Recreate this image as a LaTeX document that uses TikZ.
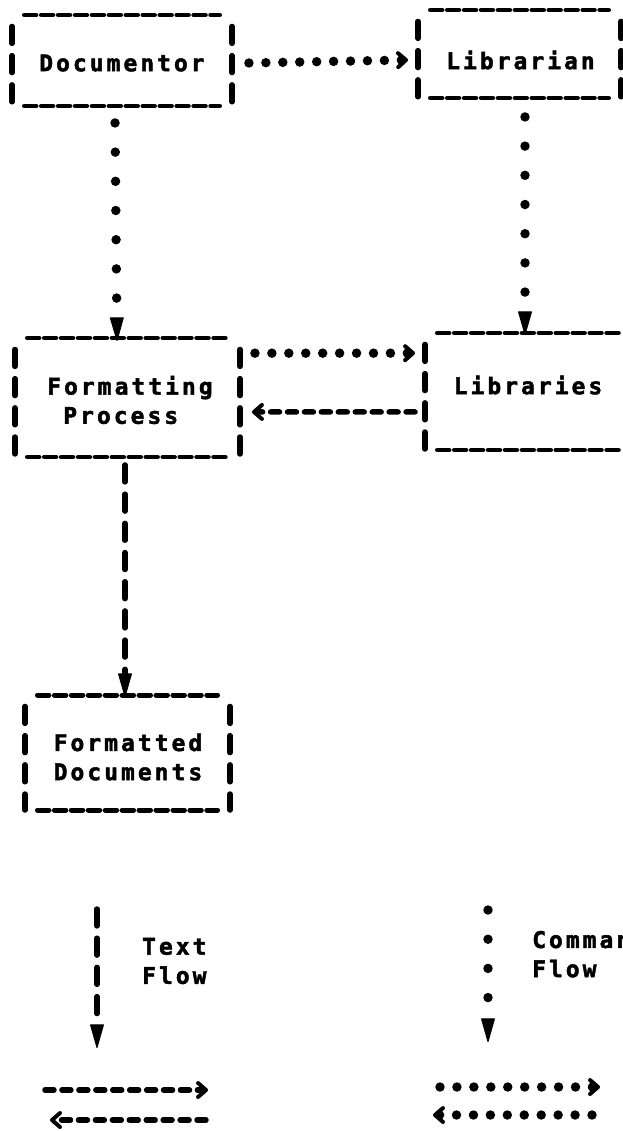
\documentclass[tikz,border=0pt]{standalone}
\usepackage{fontspec}
\newfontfamily\pf[LetterSpace=13.3, FakeBold=2]{DejaVu Sans Mono}
\usetikzlibrary{arrows.meta}
\begin{document}
\begin{tikzpicture}[x=1bp, y=-1bp,
  pfont/.style={font=\fontsize{23}{29.3}\selectfont\pf\bfseries},
  hline/.style={draw, line width=5pt, line cap=round, dash pattern=on 11.5pt off 5.5pt},
  vbar/.style={draw, line width=5.5pt, line cap=round, dash pattern=on 17pt off 12.3pt},
  abox/.style={rectangle, inner sep=0pt, outer sep=0pt,
    append after command={
      ([xshift=12.5pt]\tikzlastnode.north west) edge[hline] ([xshift=-12.5pt]\tikzlastnode.north east)
      ([xshift=12.5pt]\tikzlastnode.south west) edge[hline] ([xshift=-12.5pt]\tikzlastnode.south east)
      ([yshift=-11.5pt]\tikzlastnode.north west) edge[vbar] (\tikzlastnode.south west)
      ([yshift=-11.5pt]\tikzlastnode.north east) edge[vbar] (\tikzlastnode.south east)
    }},
  lbl/.style={pfont, inner sep=0pt, align=left},
  cmd/.style={draw, line width=9.5pt, line cap=round, dash pattern=on 0pt off 17pt},
  cmdv/.style={draw, line width=9.5pt, line cap=round, dash pattern=on 0pt off 29.3pt},
  txt/.style={draw, line width=5.5pt, line cap=round, dash pattern=on 9pt off 8pt},
  txtv/.style={draw, line width=5.5pt, line cap=round, dash pattern=on 17pt off 12.3pt},
  chev/.tip={Straight Barb[length=8pt, width=14pt, line width=4pt, round]},
  vtip/.tip={Triangle[length=25pt, width=14pt, line width=1pt, round]},
]
\fill[white] (0,0) rectangle (623,1131);
\useasboundingbox (0,0) rectangle (623,1131);
\clip (0,0) rectangle (623,1131);

% boxes
\node[abox, minimum width=220bp, minimum height=91bp,
  label={[lbl, yshift=-2.5bp]center:Documentor}] (doc) at (122,60.5) {};
\node[abox, minimum width=203bp, minimum height=88bp,
  label={[lbl, xshift=1bp, yshift=-6bp]center:Librarian}] (lib) at (519.5,54) {};
\node[abox, minimum width=225bp, minimum height=119bp,
  label={[lbl, xshift=2.5bp, yshift=-2.5bp]center:{Formatting\\\hspace*{16bp}Process}}] (fmt) at (127.5,397.5) {};
\node[abox, minimum width=211bp, minimum height=117bp,
  label={[lbl, xshift=-2.5bp, yshift=6.5bp]center:Libraries}] (libs) at (530.5,391.5) {};
\node[abox, minimum width=205bp, minimum height=115bp,
  label={[lbl, xshift=0.5bp, yshift=-4.5bp]center:{Formatted\\Documents}}] (fdoc) at (127.5,752.5) {};

% connectors
\draw[cmd, -chev] ([xshift=17pt, yshift=-2.5pt]doc.east) -- ([xshift=-10pt, yshift=-6pt]lib.west);
\draw[cmdv, -vtip] ([xshift=-7pt, yshift=-17pt]doc.south) -- ([xshift=-10.5pt, yshift=-3pt]fmt.north);
\draw[cmdv, -vtip] ([xshift=5.5pt, yshift=-19pt]lib.south) -- ([xshift=-5.5pt, yshift=-2pt]libs.north);
\draw[cmd, -chev] ([xshift=15pt, yshift=44.5pt]fmt.east) -- ([xshift=-10pt, yshift=38.5pt]libs.west);
\draw[txt, -chev] ([xshift=-10pt, yshift=-20.5pt]libs.west) -- ([xshift=12pt, yshift=-14.5pt]fmt.east);
\draw[txtv, -vtip] ([xshift=-2.5pt, yshift=-8pt]fmt.south) -- ([xshift=-2.5pt, yshift=-2pt]fdoc.north);

% legend
\coordinate (tfa) at (97,909);
\coordinate (tfb) at (97,1048);
\draw[txtv, -vtip] (tfa) -- (tfb);
\node[lbl, anchor=west] (tflabel) at (142,961) {Text\\Flow};

\coordinate (cfa) at (488,910);
\coordinate (cfb) at (488,1042);
\draw[cmdv, -vtip] (cfa) -- (cfb);
\node[lbl, anchor=west] (cflabel) at (532,954) {Command\\Flow};

\coordinate (ta1) at (45,1090);
\coordinate (ta2) at (208,1090);
\draw[txt, -chev] (ta1) -- (ta2);
\coordinate (tb1) at (206,1120);
\coordinate (tb2) at (50,1120);
\draw[txt, -chev] (tb1) -- (tb2);

\coordinate (ca1) at (440,1087);
\coordinate (ca2) at (600,1087);
\draw[cmd, -chev] (ca1) -- (ca2);
\coordinate (cb1) at (592,1115);
\coordinate (cb2) at (433,1115);
\draw[cmd, -chev] (cb1) -- (cb2);
\end{tikzpicture}
\end{document}
